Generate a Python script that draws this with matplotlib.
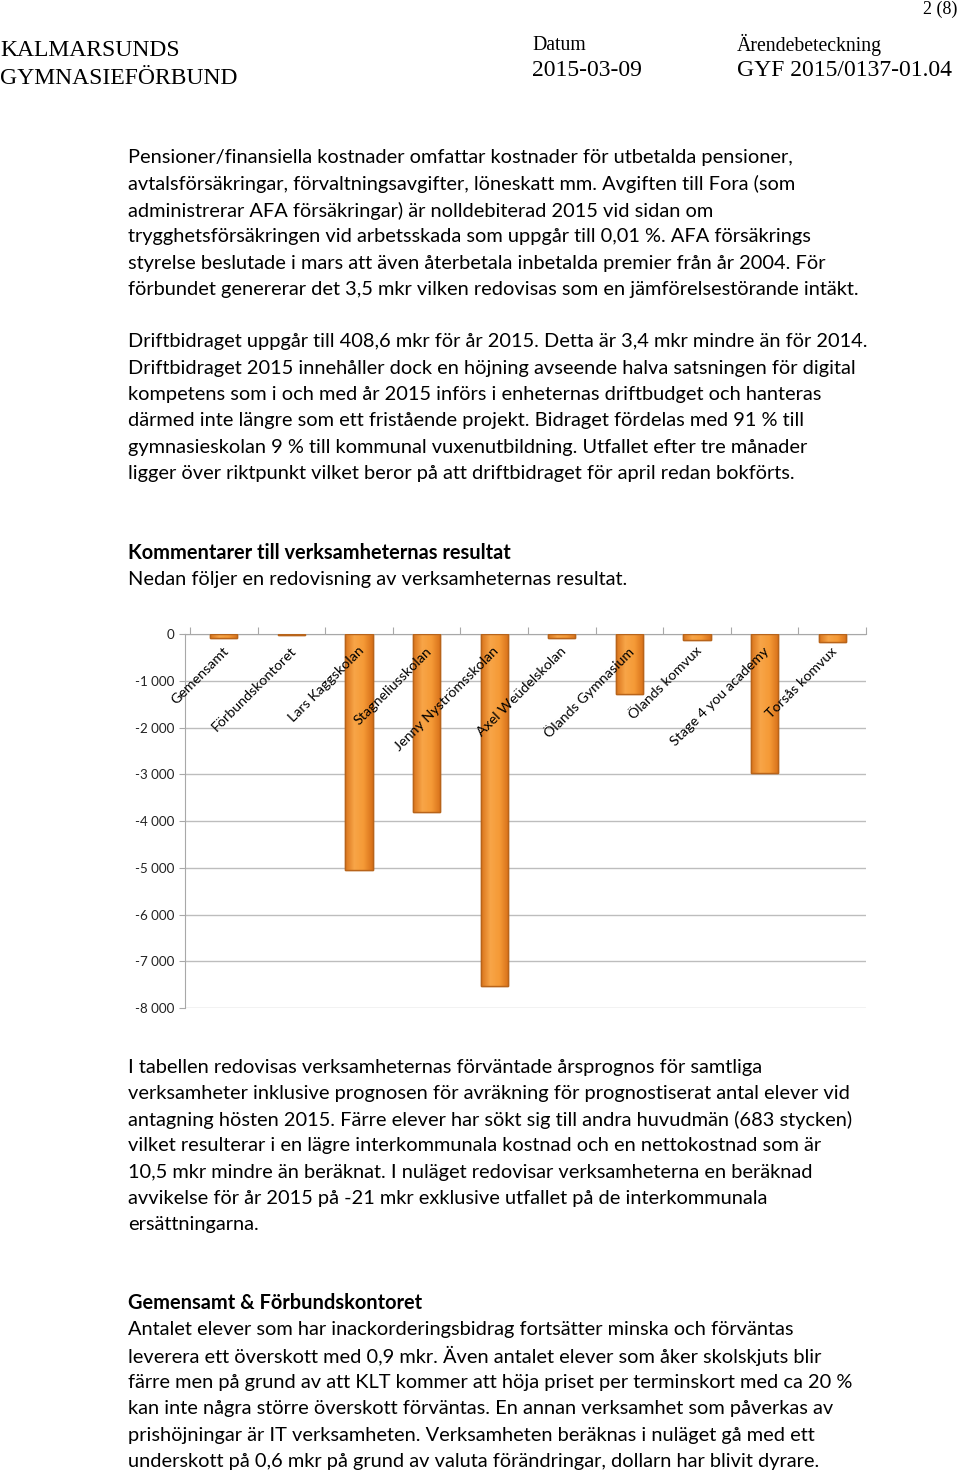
import numpy as np
import matplotlib.pyplot as plt
from matplotlib.colors import LinearSegmentedColormap

# chart data (tkr)
units = ['Gemensamt', 'Förbundskontoret', 'Lars Kaggskolan', 'Stagneliusskolan',
         'Jenny Nyströmsskolan', 'Axel Weüdelskolan', 'Ölands Gymnasium',
         'Ölands komvux', 'Stage 4 you academy', 'Torsås komvux']
result = [-90, -30, -5050, -3810, -7530, -90, -1280, -130, -2970, -170]
yticks = [0, -1000, -2000, -3000, -4000, -5000, -6000, -7000, -8000]
ytick_labels = ['0', '-1 000', '-2 000', '-3 000', '-4 000', '-5 000', '-6 000', '-7 000', '-8 000']

para1 = ['Pensioner/finansiella kostnader omfattar kostnader för utbetalda pensioner,',
         'avtalsförsäkringar, förvaltningsavgifter, löneskatt mm. Avgiften till Fora (som',
         'administrerar AFA försäkringar) är nolldebiterad 2015 vid sidan om',
         'trygghetsförsäkringen vid arbetsskada som uppgår till 0,01 %. AFA försäkrings',
         'styrelse beslutade i mars att även återbetala inbetalda premier från år 2004. För',
         'förbundet genererar det 3,5 mkr vilken redovisas som en jämförelsestörande intäkt.']
para2 = ['Driftbidraget uppgår till 408,6 mkr för år 2015. Detta är 3,4 mkr mindre än för 2014.',
         'Driftbidraget 2015 innehåller dock en höjning avseende halva satsningen för digital',
         'kompetens som i och med år 2015 införs i enheternas driftbudget och hanteras',
         'därmed inte längre som ett fristående projekt. Bidraget fördelas med 91 % till',
         'gymnasieskolan 9 % till kommunal vuxenutbildning. Utfallet efter tre månader',
         'ligger över riktpunkt vilket beror på att driftbidraget för april redan bokförts.']
heading1 = 'Kommentarer till verksamheternas resultat'
para3 = ['Nedan följer en redovisning av verksamheternas resultat.']
para4 = ['I tabellen redovisas verksamheternas förväntade årsprognos för samtliga',
         'verksamheter inklusive prognosen för avräkning för prognostiserat antal elever vid',
         'antagning hösten 2015. Färre elever har sökt sig till andra huvudmän (683 stycken)',
         'vilket resulterar i en lägre interkommunala kostnad och en nettokostnad som är',
         '10,5 mkr mindre än beräknat. I nuläget redovisar verksamheterna en beräknad',
         'avvikelse för år 2015 på -21 mkr exklusive utfallet på de interkommunala',
         'ersättningarna.']
heading2 = 'Gemensamt & Förbundskontoret'
para5 = ['Antalet elever som har inackorderingsbidrag fortsätter minska och förväntas',
         'leverera ett överskott med 0,9 mkr. Även antalet elever som åker skolskjuts blir',
         'färre men på grund av att KLT kommer att höja priset per terminskort med ca 20 %',
         'kan inte några större överskott förväntas. En annan verksamhet som påverkas av',
         'prishöjningar är IT verksamheten. Verksamheten beräknas i nuläget gå med ett',
         'underskott på 0,6 mkr på grund av valuta förändringar, dollarn har blivit dyrare.']

W, H = 960, 1472
fig = plt.figure(figsize=(W / 100, H / 100), dpi=100)
fig.patch.set_facecolor('white')


def put(x, y, s, **kw):
    # x, y in pixels from the top-left corner
    fig.text(x / W, 1 - y / H, s, va='center', **kw)


body = dict(family='Lato', fontsize=14.4, color='black')
serif = dict(family='Liberation Serif', color='black')

# header
put(957, 9, '2 (8)', ha='right', fontsize=13, **serif)
put(0, 51, 'KALMARSUNDS', fontsize=17, **serif)
put(0, 78, 'GYMNASIEFÖRBUND', fontsize=17, **serif)
put(532, 45, 'Datum', fontsize=14.2, **serif)
put(532, 70, '2015-03-09', fontsize=17, **serif)
put(737, 45, 'Ärendebeteckning', fontsize=14.2, **serif)
put(737, 70, 'GYF 2015/0137-01.04', fontsize=17, **serif)

step = 26.3


def block(lines, y0, weight='normal'):
    for i, line in enumerate(lines):
        put(128, y0 + i * step, line, fontweight=weight, **body)


block(para1, 158)
block(para2, 342)
block([heading1], 553, 'bold')
block(para3, 579)
block(para4, 1067)
block([heading2], 1303, 'bold')
block(para5, 1330)

# bar chart
ax = fig.add_axes([185 / W, 1 - 1008 / H, (866 - 185) / W, (1008 - 634) / H])
x = np.arange(len(units))
xlim = (len(units) - 0.5 - (866 - 185) / 67.6, len(units) - 0.5)
yticks_pos = yticks
ax.set_yticks(yticks_pos)
ax.set_yticklabels(ytick_labels, family='Lato', fontsize=9.6, color='#222222')
ax.yaxis.grid(True, color='#bdbdbd', linewidth=1)
ax.set_axisbelow(True)
for s in ['right', 'bottom']:
    ax.spines[s].set_visible(False)
for s in ['left', 'top']:
    ax.spines[s].set_color('#a8a8a8')
ax.tick_params(axis='y', length=4, color='#a8a8a8', pad=4)
ax.xaxis.tick_top()
ax.set_xticks(np.arange(len(units) + 1) - 0.5)
ax.set_xticklabels([])
ax.tick_params(axis='x', length=5, color='#a8a8a8')

bar_w = 0.4
orange = LinearSegmentedColormap.from_list('o', ['#d9741c', '#f8a548', '#f59a36', '#d77019'])
grad = np.linspace(0, 1, 64).reshape(1, -1)
bars = ax.bar(x, result, width=bar_w, color='#f39a36', edgecolor='#b8641a', linewidth=1, zorder=2)
for b in bars:
    x0, w = b.get_x(), b.get_width()
    h = b.get_height()
    ax.imshow(grad, cmap=orange, aspect='auto', extent=(x0, x0 + w, h, 0), zorder=2.5)
    ax.bar(x0 + w / 2, h, width=w, fill=False, edgecolor='#b8641a', linewidth=1, zorder=3)
ax.set_xlim(*xlim)
ax.set_ylim(-8000, 0)

for xi, name in zip(x, units):
    ax.text(xi + 0.04, 0.96, name, transform=ax.get_xaxis_transform(), rotation=45,
            rotation_mode='anchor', ha='right', va='center', family='Lato', fontsize=10.3)

fig.savefig('out.png', dpi=100)
